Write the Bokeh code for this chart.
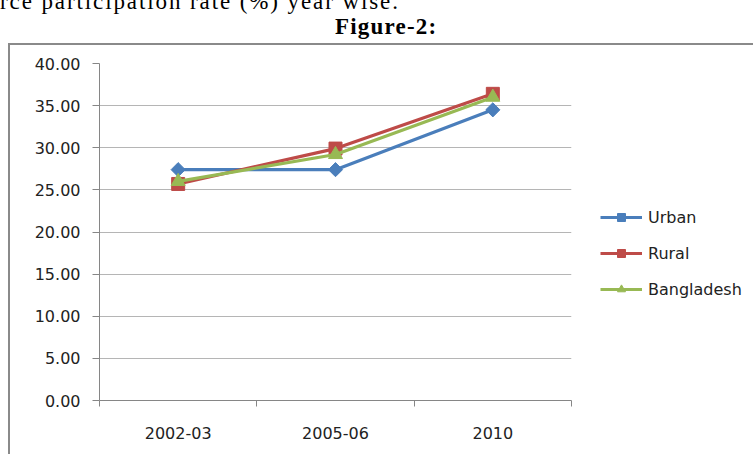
import math
from bokeh.plotting import figure
from bokeh.layouts import column
from bokeh.models import (Range1d, FixedTicker, Legend, LegendItem, Div,
                          PrintfTickFormatter)
from bokeh.embed import file_html
from bokeh.resources import INLINE

categories = ["2002-03", "2005-06", "2010"]
urban = [27.4, 27.4, 34.5]
rural = [25.7, 29.9, 36.4]
bangladesh = [26.0, 29.2, 36.0]
y_ticks = [0, 5, 10, 15, 20, 25, 30, 35, 40]
header_line = "rce participation rate (%) year wise."
figure_title = "Figure-2:"

series = [
    ("Urban", urban, "#4a7ebb", "square", 10, math.pi / 4),
    ("Rural", rural, "#be4b48", "square", 13, 0),
    ("Bangladesh", bangladesh, "#98b954", "triangle", 14, 0),
]

xs = [i + 0.5 for i in range(len(categories))]

SERIF = "font-family:'Times New Roman','Liberation Serif',Times,serif;"
header = Div(
    text=(
        '<div style="position:relative;width:753px;height:43px;">'
        '<span style="position:absolute;left:0px;top:-10px;white-space:nowrap;'
        + SERIF + 'font-size:23px;line-height:23px;'
        'letter-spacing:1.9px;color:black;">' + header_line + '</span>'
        '<span style="position:absolute;left:335px;top:15px;white-space:nowrap;'
        + SERIF + 'font-weight:bold;font-size:23px;'
        'line-height:23px;letter-spacing:1.2px;color:black;">' + figure_title + '</span>'
        '</div>'
    ),
    width=753, height=43, margin=(0, 0, 0, 0),
)

p = figure(width=743, height=409, output_backend="svg", toolbar_location=None,
           x_range=Range1d(0, len(categories)), y_range=Range1d(0, 40),
           frame_width=470, frame_height=335,
           min_border_left=89, min_border_right=184,
           min_border_top=18, min_border_bottom=56,
           margin=(0, 0, 0, 8))
p.styles = {"border-top": "2px solid #8a8a8a", "border-left": "2px solid #8a8a8a"}
p.outline_line_color = None
p.background_fill_color = "white"
p.border_fill_color = "white"

FONT = "DejaVu Sans"
AXC = "#868686"

# y axis
p.yaxis.ticker = FixedTicker(ticks=y_ticks)
p.yaxis.formatter = PrintfTickFormatter(format="%.2f")
p.yaxis.axis_line_color = AXC
p.yaxis.major_tick_line_color = AXC
p.yaxis.major_tick_out = 7
p.yaxis.major_tick_in = 0
p.yaxis.minor_tick_line_color = None
p.yaxis.major_label_text_font = FONT
p.yaxis.major_label_text_font_size = "16px"
p.yaxis.major_label_text_color = "#222222"
p.yaxis.major_label_standoff = 12

# x axis
p.xaxis.ticker = FixedTicker(ticks=xs, minor_ticks=list(range(len(categories) + 1)))
p.xaxis.major_label_overrides = {x: c for x, c in zip(xs, categories)}
p.xaxis.axis_line_color = AXC
p.xaxis.major_tick_line_color = None
p.xaxis.minor_tick_line_color = AXC
p.xaxis.minor_tick_out = 6
p.xaxis.minor_tick_in = 0
p.xaxis.major_label_text_font = FONT
p.xaxis.major_label_text_font_size = "16px"
p.xaxis.major_label_text_color = "#222222"
p.xaxis.major_label_standoff = 20

p.xgrid.grid_line_color = None
p.ygrid.ticker = FixedTicker(ticks=y_ticks)
p.ygrid.grid_line_color = "#b5b5b5"
p.ygrid.grid_line_width = 1.2

items = []
for name, vals, color, marker, size, ang in series:
    r1 = p.line(xs, vals, line_color=color, line_width=3.2)
    r2 = p.scatter(xs, vals, marker=marker, size=size, angle=ang,
                   fill_color=color, line_color=color)
    items.append(LegendItem(label=name, renderers=[r1, r2]))

legend = Legend(items=items, location=(29, 101), glyph_width=42, glyph_height=20,
                label_height=20, spacing=16, padding=0, margin=0,
                label_standoff=6, label_text_font=FONT,
                label_text_font_size="16px", label_text_color="#222222",
                background_fill_alpha=0, border_line_color=None)
p.add_layout(legend, "right")

layout = column(header, p, spacing=0, margin=(0, 0, 0, 0))
open("out.html", "w").write(file_html(layout, INLINE))
